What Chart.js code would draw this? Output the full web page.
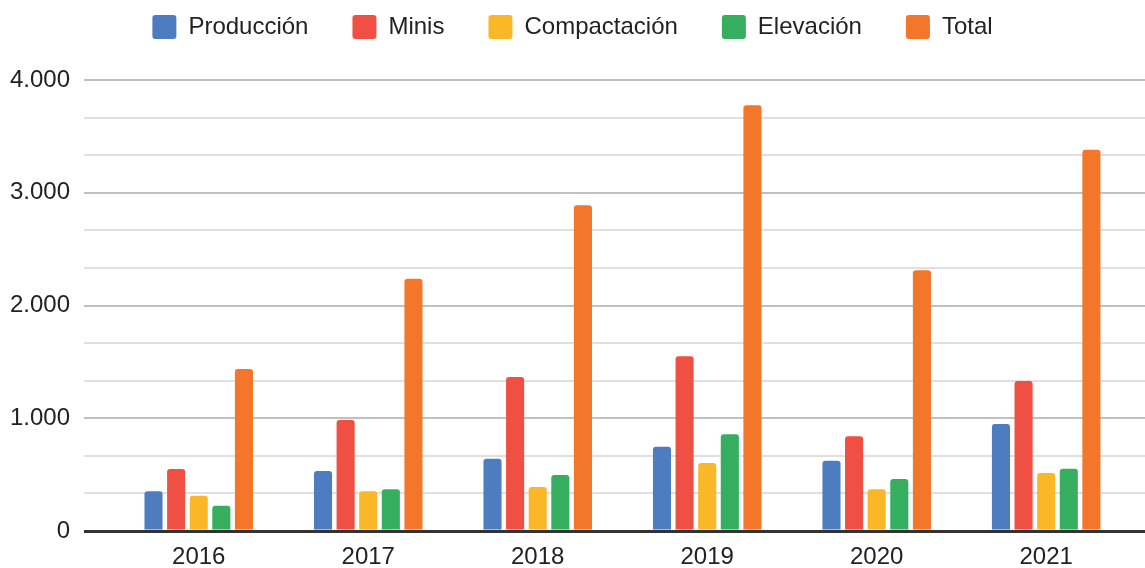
<!DOCTYPE html>
<html>
<head>
<meta charset="utf-8">
<script src="https://cdn.jsdelivr.net/npm/chart.js@4"></script>
<style>
    html, body { margin: 0; padding: 0; background: #fff; }
    #wrap { width: 1145px; height: 568px; }
</style>
</head>
<body>
<div id="wrap"><canvas id="chartYears"></canvas></div>
<script>
const YEARS = ["2016", "2017", "2018", "2019", "2020", "2021"];

const produccion = [352, 532, 641, 748, 624, 949];
const minis = [550, 984, 1366, 1549, 840, 1330];
const compactacion = [313, 352, 390, 603, 370, 514];
const elevacion = [225, 370, 497, 857, 461, 553];
const total = [1437, 2238, 2889, 3776, 2312, 3382];

const Y_MAX = 4000;
const Y_STEP = 1000 / 3;

const FONT = "'Liberation Sans', Arial, sans-serif";

function toPoints(values) {
    return values.map((v, i) => ({ x: i, y: v }));
}

function isMajor(value) {
    return Math.abs(value / 1000 - Math.round(value / 1000)) < 1e-6;
}

// legend height decides where the plot area starts
const legendHeight = {
    id: 'legendHeight',
    beforeInit(chart) {
        const fit = chart.legend.fit;
        chart.legend.fit = function () {
            fit.bind(chart.legend)();
            this.height = 109;
        };
    }
};

const chartYears = createYearsChart();

function createYearsChart() {
    const data = {
        datasets: [{
            label: 'Producción',
            data: toPoints(produccion),
            backgroundColor: "#4E7CC0",
        },
        {
            label: 'Minis',
            data: toPoints(minis),
            backgroundColor: "#F04F43",
        },
        {
            label: 'Compactación',
            data: toPoints(compactacion),
            backgroundColor: "#FAB829",
        },
        {
            label: 'Elevación',
            data: toPoints(elevacion),
            backgroundColor: "#35AF5F",
        },
        {
            label: 'Total',
            data: toPoints(total),
            backgroundColor: "#F4762B",
        },
        ]
    };

    const config = {
        type: 'bar',
        data: data,
        plugins: [legendHeight],
        options: {
            responsive: true,
            maintainAspectRatio: false,
            animation: false,
            layout: { padding: { left: 0, right: 0, top: -29, bottom: 0 } },
            datasets: {
                bar: {
                    categoryPercentage: 0.667,
                    barPercentage: 0.8,
                    borderRadius: 3,
                }
            },
            plugins: {
                tooltip: { enabled: false },
                legend: {
                    position: 'top',
                    labels: {
                        boxWidth: 24,
                        boxHeight: 24,
                        useBorderRadius: true,
                        borderRadius: 3,
                        padding: 44,
                        color: '#222',
                        font: { family: FONT, size: 24 }
                    }
                }
            },
            scales: {
                x: {
                    type: 'linear',
                    min: -0.677,
                    max: 5.583,
                    offset: false,
                    afterFit: (scale) => { scale.height = 37; },
                    grid: { display: false, drawTicks: false, offset: false },
                    border: { display: false },
                    ticks: {
                        stepSize: 1,
                        includeBounds: false,
                        color: '#222',
                        padding: 12,
                        font: { family: FONT, size: 24 },
                        callback: (value) => YEARS[value] ?? ''
                    }
                },
                y: {
                    min: 0,
                    max: Y_MAX,
                    afterFit: (scale) => { scale.width = 84; },
                    border: { display: false },
                    grid: {
                        drawTicks: false,
                        lineWidth: (context) => context.tick.value == 0 ? 3 : 2,
                        color: (context) => {
                            if (context.tick.value == 0) {
                                return "#333333";
                            }
                            return isMajor(context.tick.value) ? "#c0c0c0" : "#e0e0e0";
                        }
                    },
                    ticks: {
                        stepSize: Y_STEP,
                        maxTicksLimit: 20,
                        autoSkip: false,
                        padding: 14,
                        color: '#222',
                        font: { family: FONT, size: 24 },
                        callback: (value) => isMajor(value) ? Math.round(value).toLocaleString('de-DE') : ''
                    }
                }
            }
        }
    };

    return new Chart(
        document.getElementById('chartYears'),
        config
    );
}
</script>
</body>
</html>
